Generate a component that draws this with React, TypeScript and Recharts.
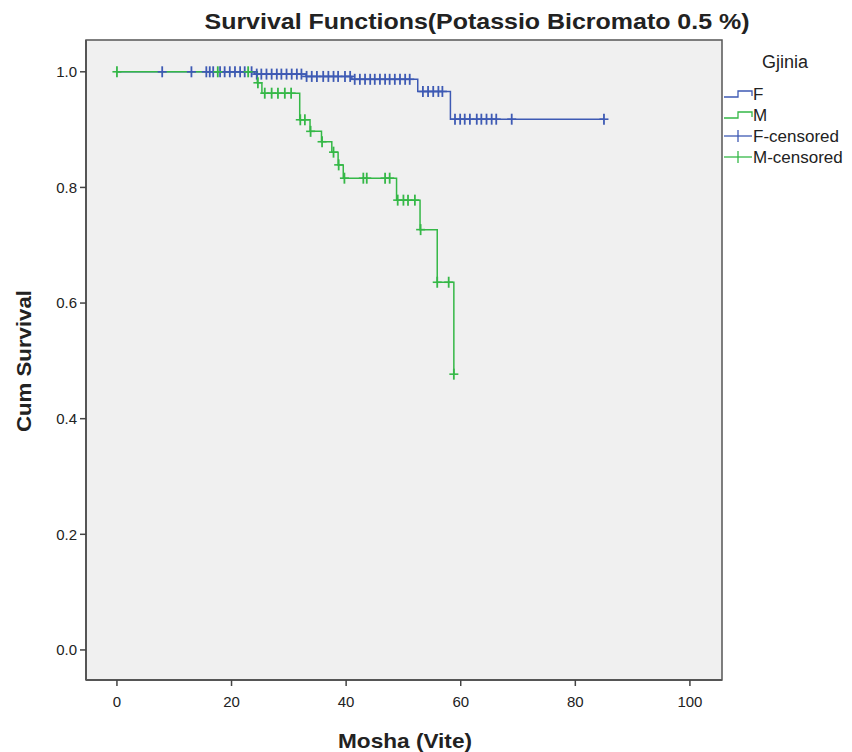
import React from 'react';
import { ComposedChart, Line, Scatter, XAxis, YAxis, ReferenceArea, Label } from 'recharts';

const xTicks = [0, 20, 40, 60, 80, 100];
const yTicks = [0, 0.2, 0.4, 0.6, 0.8, 1.0];

// Kaplan-Meier step points (time, cumulative survival) for F
const fSteps = [
  { t: 0, s: 1.0 },
  { t: 24, s: 0.996 },
  { t: 33, s: 0.992 },
  { t: 41, s: 0.987 },
  { t: 52.5, s: 0.966 },
  { t: 58.2, s: 0.918 },
  { t: 85, s: 0.918 },
];

// Kaplan-Meier step points for M
const mSteps = [
  { t: 0, s: 1.0 },
  { t: 24.5, s: 0.981 },
  { t: 25.3, s: 0.963 },
  { t: 31.9, s: 0.917 },
  { t: 33.7, s: 0.897 },
  { t: 35.7, s: 0.879 },
  { t: 37.5, s: 0.861 },
  { t: 38.6, s: 0.839 },
  { t: 39.5, s: 0.816 },
  { t: 48.8, s: 0.778 },
  { t: 52.9, s: 0.727 },
  { t: 55.9, s: 0.636 },
  { t: 58.8, s: 0.477 },
];

// censored times
const fCensored = [
  7.9, 13, 15.6, 16.2, 16.8, 18, 18.8, 19.7, 20.6, 21.5, 22.3, 23.5, 24.4, 25.2, 26.1, 27, 27.9,
  28.7, 29.6, 30.5, 31.4, 32.2, 33.1, 34, 34.9, 36, 36.9, 37.8, 38.6, 39.8, 40.7, 41.5, 42.4, 43.3,
  44.2, 45, 45.9, 46.8, 47.6, 48.5, 49.4, 50.3, 51.1, 53.4, 54.3, 55.2, 56.1, 56.8, 59, 59.9, 60.7,
  61.6, 62.8, 63.6, 64.5, 65.4, 66.2, 68.9, 85,
];
const mCensored = [
  0, 17.6, 22.9, 24.6, 25.8, 27, 28.1, 29.3, 30.4, 32, 32.8, 33.8, 35.8, 37.8, 38.7, 39.7, 43, 43.6,
  46.8, 47.6, 49, 50, 50.8, 52, 53, 55.9, 57.9, 58.8,
];

const legendTitle = 'Gjinia';
const legendItems = [
  { label: 'F', kind: 'step' },
  { label: 'M', kind: 'step' },
  { label: 'F-censored', kind: 'cross' },
  { label: 'M-censored', kind: 'cross' },
];

const FONT = '"Liberation Sans", Arial, sans-serif';
const BLUE = '#3e5ab4';
const GREEN = '#35b847';

const survivalAt = (steps: { t: number; s: number }[], t: number) => {
  let s = steps[0].s;
  for (const p of steps) {
    if (p.t <= t + 1e-9) s = p.s;
  }
  return s;
};

const fCensorData = fCensored.map((t) => ({ t, s: survivalAt(fSteps, t) }));
const mCensorData = mCensored.map((t) => ({ t, s: survivalAt(mSteps, t) }));

const makeCross = (color: string) => (props: any) => {
  const { cx, cy } = props;
  if (cx == null || cy == null) return <g />;
  return (
    <g>
      <line x1={cx - 4.5} x2={cx + 4.5} y1={cy} y2={cy} stroke={color} strokeWidth={1.6} />
      <line x1={cx} x2={cx} y1={cy - 5.5} y2={cy + 5.5} stroke={color} strokeWidth={1.8} />
    </g>
  );
};

const LegendBox = () => (
  <svg
    width={130}
    height={150}
    style={{ position: 'absolute', left: 722, top: 40, overflow: 'visible' }}
  >
    <text x={40} y={28} fontFamily={FONT} fontSize={18} fill="#222">{legendTitle}</text>
    {legendItems.map((it, i) => {
      const y = 54 + i * 21;
      const color = i % 2 === 0 ? BLUE : GREEN;
      return (
        <g key={it.label}>
          {it.kind === 'step' ? (
            <polyline
              points={`2,${y + 3} 16,${y + 3} 16,${y - 3} 30,${y - 3} 30,${y + 2}`}
              fill="none"
              stroke={color}
              strokeWidth={1.3}
            />
          ) : (
            <g>
              <line x1={2} x2={30} y1={y} y2={y} stroke={color} strokeWidth={1.3} />
              <line x1={16} x2={16} y1={y - 6} y2={y + 6} stroke={color} strokeWidth={1.3} />
            </g>
          )}
          <text x={31} y={y + 6} fontFamily={FONT} fontSize={17} fill="#222">{it.label}</text>
        </g>
      );
    })}
  </svg>
);

export default function App() {
  return (
    <div style={{ position: 'absolute', left: 0, top: 0, width: 852, height: 752, background: '#fff', fontFamily: FONT }}>
      <svg width={852} height={40} style={{ position: 'absolute', left: 0, top: 0 }}>
        <text
          x={477}
          y={29}
          textAnchor="middle"
          fontFamily={FONT}
          fontSize={22}
          fontWeight="bold"
          fill="#222"
          textLength={545}
          lengthAdjust="spacingAndGlyphs"
        >
          Survival Functions(Potassio Bicromato 0.5 %)
        </text>
      </svg>
      <ComposedChart width={852} height={752} margin={{ top: 40, right: 130, bottom: 0, left: 0 }}>
        <XAxis
          type="number"
          dataKey="t"
          domain={[-5.4, 105.6]}
          ticks={xTicks}
          allowDataOverflow
          height={72}
          tickSize={6}
          tickMargin={10}
          axisLine={{ stroke: '#555', strokeWidth: 2 }}
          tickLine={{ stroke: '#444', strokeWidth: 1.5 }}
          tick={{ fill: '#222', fontSize: 15, fontFamily: FONT }}
        >
          <Label
            content={() => (
              <text
                x={405}
                y={748}
                textAnchor="middle"
                fontFamily={FONT}
                fontSize={21}
                fontWeight="bold"
                fill="#222"
                textLength={134}
                lengthAdjust="spacingAndGlyphs"
              >
                Mosha (Vite)
              </text>
            )}
          />
        </XAxis>
        <YAxis
          type="number"
          domain={[-0.052, 1.055]}
          ticks={yTicks}
          allowDataOverflow
          width={86}
          tickSize={6}
          tickMargin={3}
          tickFormatter={(v: number) => v.toFixed(1)}
          axisLine={{ stroke: '#555', strokeWidth: 2 }}
          tickLine={{ stroke: '#444', strokeWidth: 1.5 }}
          tick={{ fill: '#222', fontSize: 15, fontFamily: FONT }}
        >
          <Label
            content={() => (
              <text
                x={23}
                y={361}
                transform="rotate(-90 23 361)"
                textAnchor="middle"
                dominantBaseline="central"
                fontFamily={FONT}
                fontSize={21}
                fontWeight="bold"
                fill="#222"
                textLength={142}
                lengthAdjust="spacingAndGlyphs"
              >
                Cum Survival
              </text>
            )}
          />
        </YAxis>
        <ReferenceArea
          x1={-5.4}
          x2={105.6}
          y1={-0.052}
          y2={1.055}
          fill="#f0f0f0"
          fillOpacity={1}
          stroke="#555"
          strokeWidth={1.5}
          ifOverflow="visible"
        />
        <Line
          data={fSteps}
          dataKey="s"
          type="stepAfter"
          stroke={BLUE}
          strokeWidth={1.5}
          dot={false}
          activeDot={false}
          isAnimationActive={false}
          name="F"
        />
        <Line
          data={mSteps}
          dataKey="s"
          type="stepAfter"
          stroke={GREEN}
          strokeWidth={1.5}
          dot={false}
          activeDot={false}
          isAnimationActive={false}
          name="M"
        />
        <Scatter data={fCensorData} dataKey="s" shape={makeCross(BLUE)} isAnimationActive={false} name="F-censored" />
        <Scatter data={mCensorData} dataKey="s" shape={makeCross(GREEN)} isAnimationActive={false} name="M-censored" />
      </ComposedChart>
      <LegendBox />
    </div>
  );
}
